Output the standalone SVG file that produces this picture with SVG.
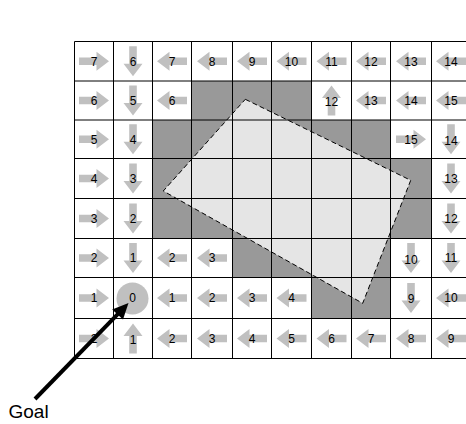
<svg xmlns="http://www.w3.org/2000/svg" xmlns:xlink="http://www.w3.org/1999/xlink" width="466" height="424" viewBox="0 0 466 424">
<style>
.t{font-family:"Liberation Sans",Arial,sans-serif;font-size:12px;fill:#000;text-anchor:middle}
.ar{fill:#c0c0c0}
.dk{fill:#999}
.grid{stroke:#000;stroke-width:1;fill:none}
.obs{fill:#e5e5e5}
.obsl{fill:none;stroke:#000;stroke-width:1;stroke-dasharray:5,3}
</style>
<defs>
<path id="ar" class="ar" d="M-15,-3.8H2.5V-9.5L15,0L2.5,9.5V3.8H-15Z"/>
</defs>
<rect width="466" height="424" fill="#fff"/>
<g id="obstacle-cells">
<rect class="dk" x="191.5" y="81" width="120" height="39"/>
<rect class="dk" x="152.5" y="120" width="238" height="38.5"/>
<rect class="dk" x="152.5" y="158.5" width="279" height="80"/>
<rect class="dk" x="232.5" y="238.5" width="158" height="39"/>
<rect class="dk" x="311.5" y="277.5" width="79" height="41"/>
</g>
<polygon id="obstacle" class="obs" points="245.3,99.3 410.7,180.3 362.7,303.3 163.3,191"/>
<path class="grid" d="M74.5,41.5H471M74.5,81H471M74.5,120H471M74.5,158.5H471M74.5,198.5H471M74.5,238.5H471M74.5,277.5H471M74.5,318.5H471M74.5,358.5H471M74.5,41.5V358.5M113.5,41.5V358.5M152.5,41.5V358.5M191.5,41.5V358.5M232.5,41.5V358.5M271.5,41.5V358.5M311.5,41.5V358.5M351.5,41.5V358.5M390.5,41.5V358.5M431.5,41.5V358.5"/>
<polygon class="obsl" points="245.3,99.3 410.7,180.3 362.7,303.3 163.3,191"/>
<g id="cells">
<!-- row 0 -->
<g id="c0-0"><use xlink:href="#ar" transform="translate(94,61.25)"/><text class="t" x="94" y="65.5">7</text></g>
<g id="c0-1"><use xlink:href="#ar" transform="translate(133,61.25) rotate(90)"/><text class="t" x="133" y="65.5">6</text></g>
<g id="c0-2"><use xlink:href="#ar" transform="translate(172,61.25) rotate(180)"/><text class="t" x="172" y="65.5">7</text></g>
<g id="c0-3"><use xlink:href="#ar" transform="translate(212,61.25) rotate(180)"/><text class="t" x="212" y="65.5">8</text></g>
<g id="c0-4"><use xlink:href="#ar" transform="translate(252,61.25) rotate(180)"/><text class="t" x="252" y="65.5">9</text></g>
<g id="c0-5"><use xlink:href="#ar" transform="translate(291.5,61.25) rotate(180)"/><text class="t" x="291.5" y="65.5">10</text></g>
<g id="c0-6"><use xlink:href="#ar" transform="translate(331.5,61.25) rotate(180)"/><text class="t" x="331.5" y="65.5">11</text></g>
<g id="c0-7"><use xlink:href="#ar" transform="translate(371,61.25) rotate(180)"/><text class="t" x="371" y="65.5">12</text></g>
<g id="c0-8"><use xlink:href="#ar" transform="translate(411,61.25) rotate(180)"/><text class="t" x="411" y="65.5">13</text></g>
<g id="c0-9"><use xlink:href="#ar" transform="translate(451,61.25) rotate(180)"/><text class="t" x="451" y="65.5">14</text></g>
<!-- row 1 -->
<g id="c1-0"><use xlink:href="#ar" transform="translate(94,100.5)"/><text class="t" x="94" y="104.8">6</text></g>
<g id="c1-1"><use xlink:href="#ar" transform="translate(133,100.5) rotate(90)"/><text class="t" x="133" y="104.8">5</text></g>
<g id="c1-2"><use xlink:href="#ar" transform="translate(172,100.5) rotate(180)"/><text class="t" x="172" y="104.8">6</text></g>
<g id="c1-6"><use xlink:href="#ar" transform="translate(331.5,100.5) rotate(-90)"/><text class="t" x="331.5" y="106">12</text></g>
<g id="c1-7"><use xlink:href="#ar" transform="translate(371,100.5) rotate(180)"/><text class="t" x="371" y="104.8">13</text></g>
<g id="c1-8"><use xlink:href="#ar" transform="translate(411,100.5) rotate(180)"/><text class="t" x="411" y="104.8">14</text></g>
<g id="c1-9"><use xlink:href="#ar" transform="translate(451,100.5) rotate(180)"/><text class="t" x="451" y="104.8">15</text></g>
<!-- row 2 -->
<g id="c2-0"><use xlink:href="#ar" transform="translate(94,139.25)"/><text class="t" x="94" y="143.5">5</text></g>
<g id="c2-1"><use xlink:href="#ar" transform="translate(133,139.25) rotate(90)"/><text class="t" x="133" y="143.5">4</text></g>
<g id="c2-8"><use xlink:href="#ar" transform="translate(411,139.25)"/><text class="t" x="411" y="143.5">15</text></g>
<g id="c2-9"><use xlink:href="#ar" transform="translate(451,139.25) rotate(90)"/><text class="t" x="451" y="145">14</text></g>
<!-- row 3 -->
<g id="c3-0"><use xlink:href="#ar" transform="translate(94,178.5)"/><text class="t" x="94" y="182.8">4</text></g>
<g id="c3-1"><use xlink:href="#ar" transform="translate(133,178.5) rotate(90)"/><text class="t" x="133" y="182.8">3</text></g>
<g id="c3-9"><use xlink:href="#ar" transform="translate(451,178.5) rotate(90)"/><text class="t" x="451" y="182.8">13</text></g>
<!-- row 4 -->
<g id="c4-0"><use xlink:href="#ar" transform="translate(94,218.5)"/><text class="t" x="94" y="222.8">3</text></g>
<g id="c4-1"><use xlink:href="#ar" transform="translate(133,218.5) rotate(90)"/><text class="t" x="133" y="222.8">2</text></g>
<g id="c4-9"><use xlink:href="#ar" transform="translate(451,218.5) rotate(90)"/><text class="t" x="451" y="222.8">12</text></g>
<!-- row 5 -->
<g id="c5-0"><use xlink:href="#ar" transform="translate(94,258)"/><text class="t" x="94" y="262.3">2</text></g>
<g id="c5-1"><use xlink:href="#ar" transform="translate(133,258) rotate(90)"/><text class="t" x="133" y="262.3">1</text></g>
<g id="c5-2"><use xlink:href="#ar" transform="translate(172,258) rotate(180)"/><text class="t" x="172" y="262.3">2</text></g>
<g id="c5-3"><use xlink:href="#ar" transform="translate(212,258) rotate(180)"/><text class="t" x="212" y="262.3">3</text></g>
<g id="c5-8"><use xlink:href="#ar" transform="translate(411,258) rotate(90)"/><text class="t" x="411" y="264">10</text></g>
<g id="c5-9"><use xlink:href="#ar" transform="translate(451,258) rotate(90)"/><text class="t" x="451" y="262.3">11</text></g>
<!-- row 6 -->
<g id="c6-0"><use xlink:href="#ar" transform="translate(94,298)"/><text class="t" x="94" y="302.3">1</text></g>
<g id="goal"><circle cx="132.5" cy="298.5" r="16" fill="#c0c0c0"/><text class="t" x="132.5" y="302.3">0</text></g>
<g id="c6-2"><use xlink:href="#ar" transform="translate(172,298) rotate(180)"/><text class="t" x="172" y="302.3">1</text></g>
<g id="c6-3"><use xlink:href="#ar" transform="translate(212,298) rotate(180)"/><text class="t" x="212" y="302.3">2</text></g>
<g id="c6-4"><use xlink:href="#ar" transform="translate(252,298) rotate(180)"/><text class="t" x="252" y="302.3">3</text></g>
<g id="c6-5"><use xlink:href="#ar" transform="translate(291.5,298) rotate(180)"/><text class="t" x="291.5" y="302.3">4</text></g>
<g id="c6-8"><use xlink:href="#ar" transform="translate(411,298) rotate(90)"/><text class="t" x="411" y="303">9</text></g>
<g id="c6-9"><use xlink:href="#ar" transform="translate(451,298) rotate(180)"/><text class="t" x="451" y="302.3">10</text></g>
<!-- row 7 -->
<g id="c7-0"><use xlink:href="#ar" transform="translate(94,338.5)"/><text class="t" x="94" y="342.8">2</text></g>
<g id="c7-1"><use xlink:href="#ar" transform="translate(133,338.5) rotate(-90)"/><text class="t" x="133" y="344">1</text></g>
<g id="c7-2"><use xlink:href="#ar" transform="translate(172,338.5) rotate(180)"/><text class="t" x="172" y="342.8">2</text></g>
<g id="c7-3"><use xlink:href="#ar" transform="translate(212,338.5) rotate(180)"/><text class="t" x="212" y="342.8">3</text></g>
<g id="c7-4"><use xlink:href="#ar" transform="translate(252,338.5) rotate(180)"/><text class="t" x="252" y="342.8">4</text></g>
<g id="c7-5"><use xlink:href="#ar" transform="translate(291.5,338.5) rotate(180)"/><text class="t" x="291.5" y="342.8">5</text></g>
<g id="c7-6"><use xlink:href="#ar" transform="translate(331.5,338.5) rotate(180)"/><text class="t" x="331.5" y="342.8">6</text></g>
<g id="c7-7"><use xlink:href="#ar" transform="translate(371,338.5) rotate(180)"/><text class="t" x="371" y="342.8">7</text></g>
<g id="c7-8"><use xlink:href="#ar" transform="translate(411,338.5) rotate(180)"/><text class="t" x="411" y="342.8">8</text></g>
<g id="c7-9"><use xlink:href="#ar" transform="translate(451,338.5) rotate(180)"/><text class="t" x="451" y="342.8">9</text></g>
</g>
<g id="connectors">
<line x1="35" y1="399" x2="118.5" y2="313.4" stroke="#000" stroke-width="4"/>
<polygon points="128.5,303 123,319.6 112.2,309.4" fill="#000"/>
</g>
<g id="goal-label"><text x="8.5" y="418" style="font-family:'Liberation Sans',Arial,sans-serif;font-size:19px;fill:#000">Goal</text></g>
</svg>
